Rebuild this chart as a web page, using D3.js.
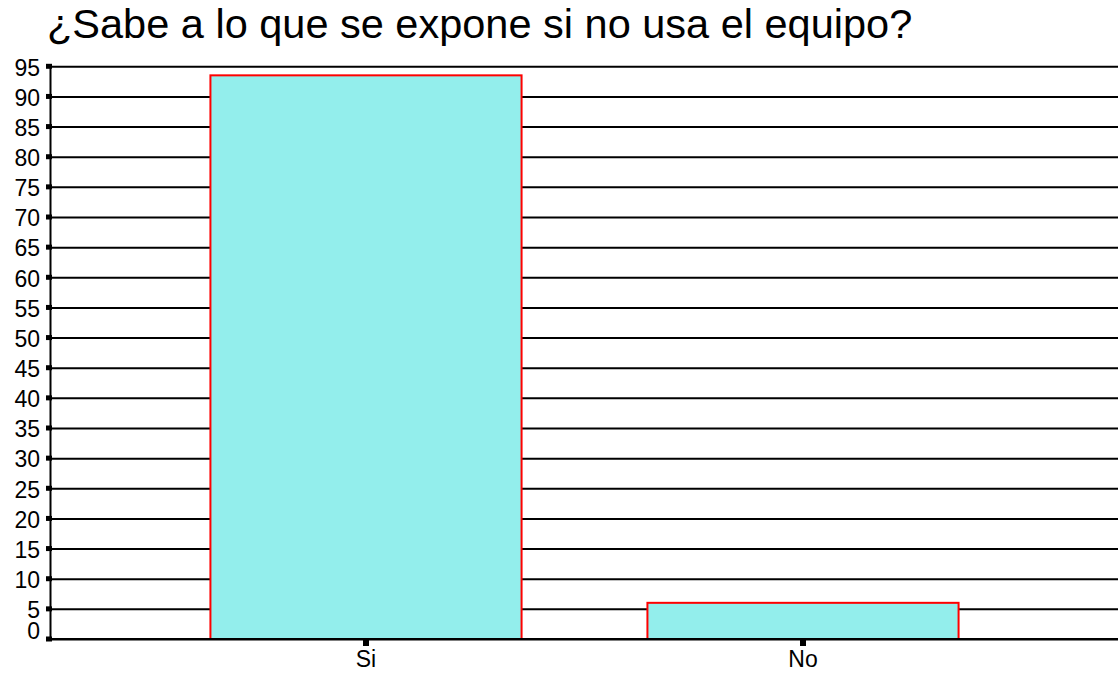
<!DOCTYPE html>
<html>
<head>
<meta charset="utf-8">
<script src="https://cdn.jsdelivr.net/npm/d3@7"></script>
<style>
  body { margin: 0; background: #fff; }
  text { font-family: "Liberation Sans", Arial, sans-serif; fill: #000; }
</style>
</head>
<body>
<svg></svg>
<script>
const w = 1118
const h = 675

const title = '¿Sabe a lo que se expone si no usa el equipo?'
const categories = ['Si', 'No']
const values = [93.5, 6]
const yTicks = [0, 5, 10, 15, 20, 25, 30, 35, 40, 45, 50, 55, 60, 65, 70, 75, 80, 85, 90, 95]

const svg = d3.select('svg')
  .attr('width', w)
  .attr('height', h);

const data = categories.map((c, i) => ({ cat: c, val: values[i] }));

const axisX = 50
const plotTop = 66.3
const plotBottom = 639

const yScale = d3.scaleLinear()
  .domain([0, 95])
  .range([plotBottom, plotTop])

const xScale = d3.scaleBand()
  .domain(categories)
  .range([147.5, 1021.5])
  .paddingInner(0.288)
  .paddingOuter(0.144)

// title
svg.append('text')
  .attr('x', 47)
  .attr('y', 38)
  .attr('font-size', '41.5px')
  .text(title);

// gridlines
const grid = svg.append('g')
  .attr('transform', `translate(${axisX}, 0)`)
  .call(d3.axisLeft(yScale).tickValues(yTicks).tickSize(-(w - axisX)).tickFormat(''))
grid.select('.domain').remove()
grid.selectAll('.tick line')
  .attr('stroke', '#000')
  .attr('stroke-width', 2)

// bars
svg.selectAll('rect.bar').data(data)
  .enter().append('rect')
  .attr('class', 'bar')
  .attr('x', d => xScale(d.cat))
  .attr('y', d => yScale(d.val))
  .attr('width', xScale.bandwidth())
  .attr('height', d => yScale(0) - yScale(d.val))
  .attr('fill', '#93eeec')
  .attr('stroke', '#ff0000')
  .attr('stroke-width', 2)

// baseline
svg.append('line')
  .attr('x1', axisX).attr('x2', w)
  .attr('y1', yScale(0)).attr('y2', yScale(0))
  .attr('stroke', '#000')
  .attr('stroke-width', 2)

// y axis line + labels
const yAxisG = svg.append('g')
  .attr('transform', `translate(${axisX}, 0)`)
  .call(d3.axisLeft(yScale).tickValues(yTicks).tickSize(0).tickPadding(10))
yAxisG.select('.domain')
  .attr('stroke', '#000')
  .attr('stroke-width', 2)
yAxisG.selectAll('.tick text')
  .attr('font-size', '23px')
  .attr('font-family', '"Liberation Sans", Arial, sans-serif')
  .attr('fill', '#000')
  .attr('dy', d => d === 0 ? '-0.02em' : '0.38em')

// little square tick marks on the y axis
svg.selectAll('rect.ytick').data(yTicks)
  .enter().append('rect')
  .attr('class', 'ytick')
  .attr('x', axisX - 4)
  .attr('y', d => yScale(d) - 2.5)
  .attr('width', 6)
  .attr('height', 5)
  .attr('fill', '#000')

// x tick squares + labels
svg.selectAll('rect.xtick').data(categories)
  .enter().append('rect')
  .attr('class', 'xtick')
  .attr('x', d => xScale(d) + xScale.bandwidth() / 2 - 3)
  .attr('y', plotBottom)
  .attr('width', 6)
  .attr('height', 7)
  .attr('fill', '#000')

svg.selectAll('text.xlabel').data(categories)
  .enter().append('text')
  .attr('class', 'xlabel')
  .attr('x', d => xScale(d) + xScale.bandwidth() / 2)
  .attr('y', 667)
  .attr('text-anchor', 'middle')
  .attr('font-size', '23px')
  .text(d => d);
</script>
</body>
</html>
